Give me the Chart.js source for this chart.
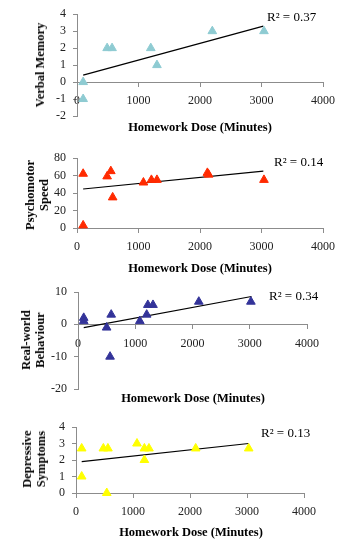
<!DOCTYPE html>
<html>
<head>
<meta charset="utf-8">
<script src="https://cdn.jsdelivr.net/npm/chart.js@4/dist/chart.umd.min.js"></script>
<style>
  body { margin: 0; background: #fff; }
  #wrap { position: relative; width: 344px; height: 539px; overflow: hidden; font-family: 'Liberation Serif', serif; color: #000; }
  canvas { position: absolute; left: 0; }
  .xt { position: absolute; font-weight: bold; font-size: 12.5px; transform: translate(-50%, -50%); white-space: nowrap; }
  .yt { position: absolute; font-weight: bold; font-size: 12.5px; line-height: 14px; text-align: center; transform: translate(-50%, -50%) rotate(-90deg); white-space: nowrap; }
  .r2 { position: absolute; font-size: 13px; transform: translateY(-50%); white-space: nowrap; }
</style>
</head>
<body>
<div id="wrap"></div>
<script>
// values
const verbalDose = [100, 100, 490, 570, 1200, 1300, 2200, 3040];
const verbalMemory = [0, -1, 2, 2, 2, 1, 3, 3];

const psychoDose = [100, 100, 490, 550, 580, 1080, 1210, 1300, 2120, 2140, 3040];
const psychomotorSpeed = [62, 3, 59, 65, 35, 52, 55, 55, 63, 61, 55];

const behaviourDose = [100, 100, 500, 560, 580, 1080, 1200, 1220, 1310, 2110, 3020];
const realWorldBehaviour = [2, 1, -1, -10, 3, 1, 3, 6, 6, 7, 7];

const depressDose = [100, 100, 480, 540, 560, 1070, 1200, 1200, 1280, 2100, 3030];
const depressiveSymptoms = [2.7, 1, 2.7, 0, 2.7, 3, 2.7, 2, 2.7, 2.7, 2.7];

// trendline end points (x, then y per panel)
const trendDose = [100, 3030];
const verbalTrend = [0.41, 3.3];
const psychoTrend = [44.6, 65];
const behaviourTrend = [-1, 8.6];
const depressTrend = [1.9, 3.0];

const rSquared = ['0.37', '0.14', '0.34', '0.13'];
const doseTicks = [0, 1000, 2000, 3000, 4000];
const verbalTicks = [-2, -1, 0, 1, 2, 3, 4];
const psychoTicks = [0, 20, 40, 60, 80];
const behaviourTicks = [-20, -10, 0, 10];
const depressTicks = [0, 1, 2, 3, 4];

Chart.defaults.font.family = "'Liberation Serif', serif";
Chart.defaults.font.size = 12;
Chart.defaults.color = '#222';

const axisGrey = '#8c8c8c';
const wrap = document.getElementById('wrap');

function pts(xs, ys) {
    return xs.map((x, i) => ({x: x, y: ys[i]}));
}

function addText(cls, html, left, top) {
    const d = document.createElement('div');
    d.className = cls;
    d.innerHTML = html;
    d.style.left = left + 'px';
    d.style.top = top + 'px';
    wrap.appendChild(d);
}

function makePanel(p) {
    const c = document.createElement('canvas');
    c.width = 344;
    c.height = p.h;
    c.style.top = p.top + 'px';
    wrap.appendChild(c);

    new Chart(c, {
        type: 'scatter',
        data: {
            datasets: [{
                data: pts(p.xs, p.ys),
                pointStyle: 'triangle',
                pointRadius: 5,
                pointHoverRadius: 5,
                backgroundColor: p.color,
                borderColor: p.color,
                borderWidth: 1,
                clip: false
            }, {
                data: pts(trendDose, p.trend),
                showLine: true,
                pointRadius: 0,
                borderColor: '#000',
                borderWidth: 1.2,
                clip: false
            }]
        },
        options: {
            responsive: false,
            devicePixelRatio: 1,
            animation: false,
            events: [],
            layout: { padding: { left: 0, right: 344 - p.right, top: p.padTop, bottom: p.padBottom } },
            plugins: { legend: { display: false }, tooltip: { enabled: false } },
            scales: {
                x: {
                    type: 'linear',
                    position: { y: 0 },
                    min: doseTicks[0],
                    max: doseTicks[doseTicks.length - 1],
                    afterBuildTicks: s => { s.ticks = doseTicks.map(v => ({value: v})); },
                    ticks: { autoSkip: false, maxRotation: 0, padding: 8, color: '#222', callback: v => String(v) },
                    grid: { drawOnChartArea: false, drawTicks: true, tickLength: 4, color: axisGrey },
                    border: { color: axisGrey }
                },
                y: {
                    type: 'linear',
                    position: 'left',
                    min: p.yTicks[0],
                    max: p.yTicks[p.yTicks.length - 1],
                    afterBuildTicks: s => { s.ticks = p.yTicks.map(v => ({value: v})); },
                    afterFit: s => { s.width = p.left; },
                    ticks: { autoSkip: false, padding: 7, color: '#222', callback: v => String(v) },
                    grid: { drawOnChartArea: false, drawTicks: true, tickLength: 4, color: axisGrey },
                    border: { color: axisGrey }
                }
            }
        }
    });

    addText('yt', p.yTitle, p.yTitleX, p.yTitleY);
    addText('xt', 'Homework Dose (Minutes)', p.xTitleX, p.xTitleY);
    addText('r2', 'R² = ' + p.r2, p.r2X, p.r2Y);
}

makePanel({top: 0, h: 135, left: 77, right: 323, padTop: 12, padBottom: 19,
    xs: verbalDose, ys: verbalMemory, trend: verbalTrend, yTicks: verbalTicks, color: '#8ecbd2',
    yTitle: 'Verbal Memory', yTitleX: 40, yTitleY: 65, xTitleX: 200, xTitleY: 127,
    r2: rSquared[0], r2X: 267, r2Y: 17});

makePanel({top: 135, h: 135, left: 77, right: 323, padTop: 23, padBottom: 42,
    xs: psychoDose, ys: psychomotorSpeed, trend: psychoTrend, yTicks: psychoTicks, color: '#ff2a00',
    yTitle: 'Psychomotor<br>Speed', yTitleX: 37, yTitleY: 195, xTitleX: 200, xTitleY: 268,
    r2: rSquared[1], r2X: 274, r2Y: 162});

makePanel({top: 270, h: 135, left: 78, right: 307, padTop: 22, padBottom: 16,
    xs: behaviourDose, ys: realWorldBehaviour, trend: behaviourTrend, yTicks: behaviourTicks, color: '#333399',
    yTitle: 'Real-world<br>Behaviour', yTitleX: 33, yTitleY: 340, xTitleX: 193, xTitleY: 398,
    r2: rSquared[2], r2X: 269, r2Y: 296});

makePanel({top: 405, h: 134, left: 76, right: 304, padTop: 22, padBottom: 46,
    xs: depressDose, ys: depressiveSymptoms, trend: depressTrend, yTicks: depressTicks, color: '#ffff00',
    yTitle: 'Depressive<br>Symptoms', yTitleX: 34, yTitleY: 459, xTitleX: 191, xTitleY: 532,
    r2: rSquared[3], r2X: 261, r2Y: 433});
</script>
</body>
</html>
